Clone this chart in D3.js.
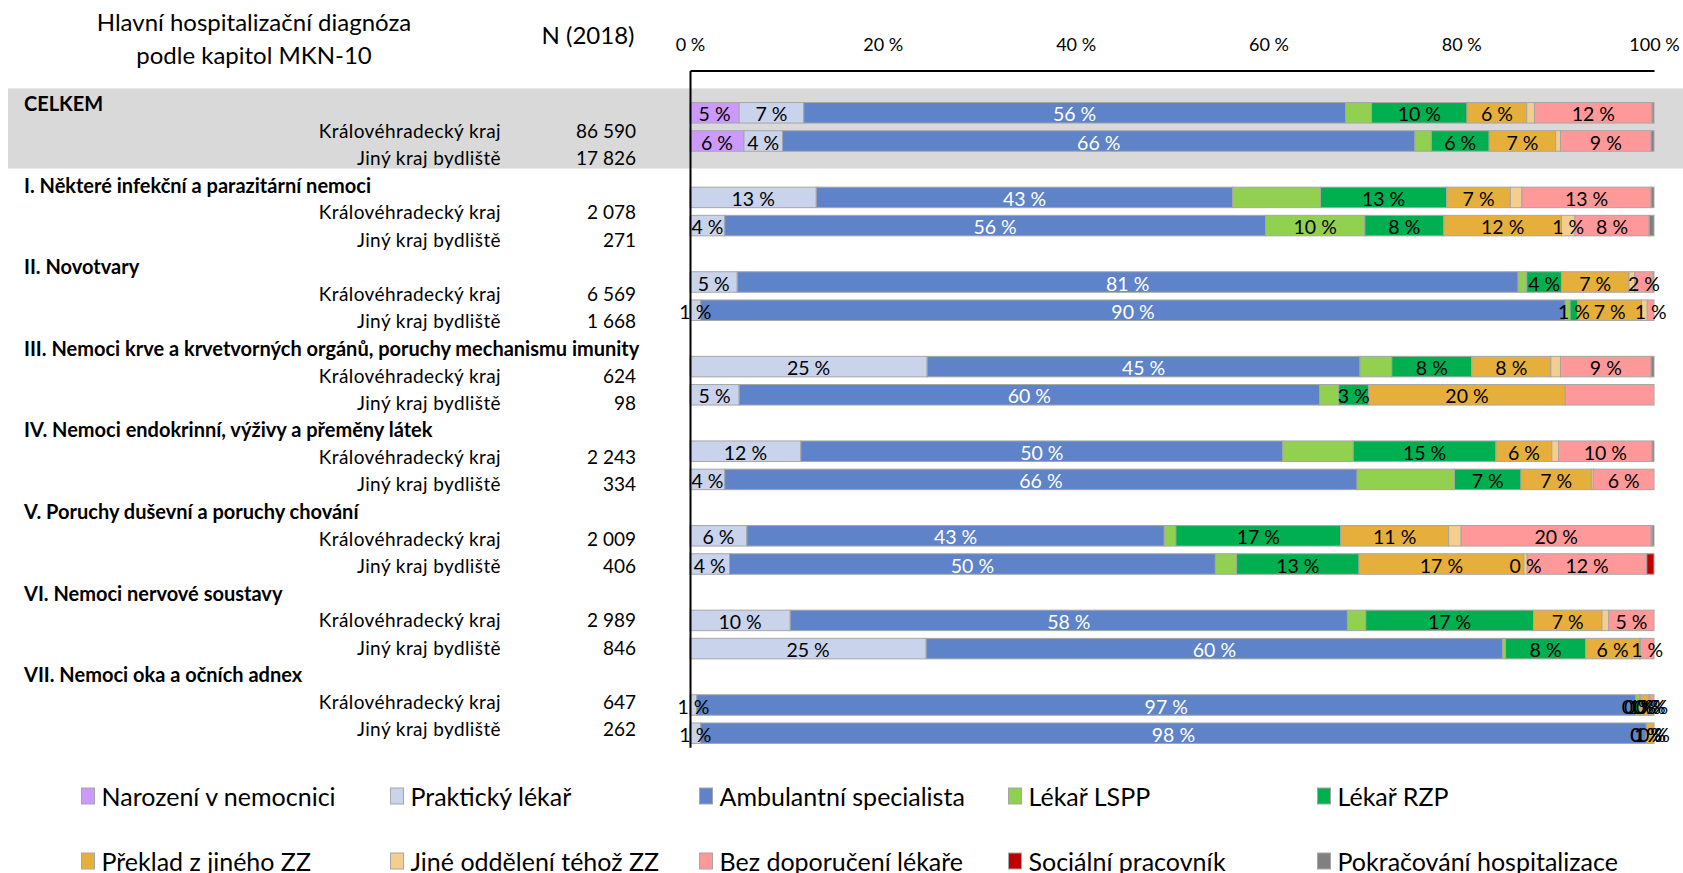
<!DOCTYPE html>
<html lang="cs">
<head>
  <meta charset="UTF-8">
  <title>Hlavní hospitalizační diagnóza</title>
  <style>
    body { margin: 0; background: #fff; }
    svg text { font-family: Lato, 'Open Sans', sans-serif; fill: #000; }
  </style>
</head>
<body>
  <svg id="svg" width="1683" height="873"></svg>

  <script src="https://d3js.org/d3.v7.min.js"></script>
  <script>
    // categories (stack order)
    const categories = ['Narození v nemocnici', 'Praktický lékař', 'Ambulantní specialista', 'Lékař LSPP', 'Lékař RZP',
      'Překlad z jiného ZZ', 'Jiné oddělení téhož ZZ', 'Bez doporučení lékaře', 'Sociální pracovník', 'Pokračování hospitalizace']
    const colors = ['#CC99FF', '#C9D3EC', '#5F83C8', '#92D050', '#00B050', '#E6AF3C', '#F3CE8C', '#FF9999', '#C00000', '#808080']

    const chapters = ['CELKEM', 'I. Některé infekční a parazitární nemoci', 'II. Novotvary',
      'III. Nemoci krve a krvetvorných orgánů, poruchy mechanismu imunity', 'IV. Nemoci endokrinní, výživy a přeměny látek',
      'V. Poruchy duševní a poruchy chování', 'VI. Nemoci nervové soustavy', 'VII. Nemoci oka a očních adnex']
    const regions = ['Královéhradecký kraj', 'Jiný kraj bydliště']
    const counts = [[86590, 17826], [2078, 271], [6569, 1668], [624, 98], [2243, 334], [2009, 406], [2989, 846], [647, 262]]

    // shares in % per row (chapter x region), same order as categories
    const shares = [
      [5.1, 6.7, 56.2, 2.7, 9.9, 6.2, 0.8, 12.2, 0, 0.2],
      [5.6, 4.0, 65.6, 1.7, 6.0, 6.9, 0.5, 9.4, 0, 0.3],
      [0, 13.1, 43.2, 9.1, 13.1, 6.6, 1.2, 13.4, 0, 0.3],
      [0, 3.6, 56.1, 10.3, 8.2, 12.2, 1.4, 7.7, 0, 0.5],
      [0, 4.9, 81.0, 0.9, 3.6, 7.0, 0.6, 1.9, 0, 0.1],
      [0, 1.1, 89.7, 0.5, 0.8, 6.6, 0.6, 0.7, 0, 0],
      [0, 24.6, 44.9, 3.3, 8.3, 8.2, 1.0, 9.4, 0, 0.3],
      [0, 5.1, 60.2, 2.0, 3.1, 20.4, 0, 9.2, 0, 0],
      [0, 11.5, 50.0, 7.3, 14.8, 5.8, 0.7, 9.7, 0, 0.2],
      [0, 3.6, 65.6, 10.1, 6.9, 7.3, 0.2, 6.3, 0, 0],
      [0, 5.9, 43.3, 1.2, 17.1, 11.2, 1.3, 19.7, 0.1, 0.2],
      [0, 4.1, 50.4, 2.2, 12.7, 17.1, 0.35, 12.4, 0.75, 0],
      [0, 10.4, 57.8, 1.9, 17.4, 7.1, 0.7, 4.7, 0, 0],
      [0, 24.5, 59.8, 0.3, 8.3, 5.6, 0.1, 1.4, 0, 0],
      [0, 0.7, 97.4, 0.4, 0.1, 0.9, 0.1, 0.4, 0, 0],
      [0, 1.1, 98.1, 0, 0, 0.8, 0, 0, 0, 0]
    ]
    // which segments carry a data label (category index)
    const labelled = [
      [0, 1, 2, 4, 5, 7], [0, 1, 2, 4, 5, 7],
      [1, 2, 4, 5, 7], [1, 2, 3, 4, 5, 6, 7],
      [1, 2, 4, 5, 7], [1, 2, 4, 5, 7],
      [1, 2, 4, 5, 7], [1, 2, 4, 5],
      [1, 2, 4, 5, 7], [1, 2, 4, 5, 7],
      [1, 2, 4, 5, 7], [1, 2, 4, 5, 6, 7],
      [1, 2, 4, 5, 7], [1, 2, 4, 5, 7],
      [1, 2, 3, 4, 5, 6, 7], [1, 2, 3, 4, 5, 7]
    ]
    const ticks = [0, 20, 40, 60, 80, 100]

    const svg = d3.select('#svg')
    const nSlots = chapters.length * 3

    // bar rows (each chapter = header slot + 2 bars)
    const yBar = d3.scaleBand()
      .domain(d3.range(nSlots))
      .range([70.5, 70.5 + nSlots * 28.2])
      .paddingInner(0.273)
      .paddingOuter(0.1365)

    // text rows on the left (slightly different pitch, as in the source sheet)
    const yText = d3.scaleBand()
      .domain(d3.range(nSlots))
      .range([89.4, 89.4 + nSlots * 27.2])

    const xScale = d3.scaleLinear()
      .domain([0, 100])
      .range([690, 1654])

    const color = d3.scaleOrdinal()
      .domain(categories)
      .range(colors)

    const fmt = d3.formatLocale({ decimal: ',', thousands: '\u00a0', grouping: [3], currency: ['', ' Kč'] }).format(',d')

    // grey band behind CELKEM
    svg.append('rect')
      .attr('x', 8)
      .attr('y', yText(0) - 1)
      .attr('width', 1683 - 8)
      .attr('height', yText(3) - yText(0) - 1.5)
      .attr('fill', '#D9D9D9')

    // headings
    svg.append('text')
      .attr('x', 254).attr('y', 21)
      .attr('text-anchor', 'middle').attr('dominant-baseline', 'central')
      .style('font-size', '24px')
      .text('Hlavní hospitalizační diagnóza')
    svg.append('text')
      .attr('x', 254).attr('y', 54)
      .attr('text-anchor', 'middle').attr('dominant-baseline', 'central')
      .style('font-size', '24px')
      .text('podle kapitol MKN-10')
    svg.append('text')
      .attr('x', 588).attr('y', 34)
      .attr('text-anchor', 'middle').attr('dominant-baseline', 'central')
      .style('font-size', '24px')
      .text('N (2018)')

    // rows as flat table
    const rows = []
    chapters.forEach((c, ci) => {
      regions.forEach((r, ri) => {
        const obj = { chapter: c, region: r, n: counts[ci][ri], slot: ci * 3 + 1 + ri, idx: rows.length }
        categories.forEach((k, ki) => { obj[k] = shares[rows.length][ki] })
        rows.push(obj)
      })
    })

    // left labels
    svg.append('g')
      .selectAll('text')
      .data(chapters)
      .join('text')
      .attr('x', 24)
      .attr('y', (d, i) => yText(i * 3) + yText.bandwidth() / 2)
      .attr('dominant-baseline', 'central')
      .style('font-size', '20px')
      .style('font-weight', 'bold')
      .text(d => d)

    svg.append('g')
      .selectAll('text')
      .data(rows)
      .join('text')
      .attr('x', 501)
      .attr('y', d => yText(d.slot) + yText.bandwidth() / 2)
      .attr('text-anchor', 'end')
      .attr('dominant-baseline', 'central')
      .style('font-size', '19px')
      .style('letter-spacing', '0.4px')
      .text(d => d.region)

    svg.append('g')
      .selectAll('text')
      .data(rows)
      .join('text')
      .attr('x', 636)
      .attr('y', d => yText(d.slot) + yText.bandwidth() / 2)
      .attr('text-anchor', 'end')
      .attr('dominant-baseline', 'central')
      .style('font-size', '19px')
      .text(d => fmt(d.n))

    // stacked bars
    const series = d3.stack().keys(categories)(rows)

    const layers = svg.append('g')
      .selectAll('g')
      .data(series)
      .join('g')
      .attr('fill', d => color(d.key))

    layers.selectAll('rect')
      .data(d => d.filter(s => s[1] - s[0] > 0))
      .join('rect')
      .attr('x', d => xScale(d[0]))
      .attr('y', d => yBar(d.data.slot))
      .attr('width', d => xScale(d[1]) - xScale(d[0]))
      .attr('height', yBar.bandwidth())
      .attr('stroke', '#A6A6A6')
      .attr('stroke-width', 1)

    // data labels
    const labels = []
    series.forEach((s, ki) => {
      s.forEach(seg => {
        if (labelled[seg.data.idx].includes(ki)) labels.push({ k: ki, seg })
      })
    })
    svg.append('g')
      .selectAll('text')
      .data(labels)
      .join('text')
      .attr('x', d => (xScale(d.seg[0]) + xScale(d.seg[1])) / 2)
      .attr('y', d => yBar(d.seg.data.slot) + yBar.bandwidth() / 2 + 1)
      .attr('text-anchor', 'middle')
      .attr('dominant-baseline', 'central')
      .style('font-size', '19.5px')
      .style('fill', d => d.k === 2 ? '#fff' : '#000')
      .text(d => Math.round(d.seg[1] - d.seg[0]) + ' %')

    // axes
    const xAxis = svg.append('g')
      .attr('transform', `translate(0,${yBar.range()[0]})`)
      .call(d3.axisTop(xScale).tickValues(ticks).tickSize(0).tickSizeOuter(0).tickPadding(20).tickFormat(d => d + ' %'))
    xAxis.select('.domain').attr('stroke', '#000').attr('stroke-width', 2)
    xAxis.selectAll('text').style('font-size', '18px').style('font-family', 'Lato, sans-serif')

    const yAxis = svg.append('g')
      .attr('transform', `translate(${xScale(0)},0)`)
      .call(d3.axisLeft(yBar).tickSize(0).tickSizeOuter(0).tickFormat(''))
    yAxis.select('.domain').attr('stroke', '#000').attr('stroke-width', 2)

    // legend
    const legend = svg.append('g')
      .selectAll('g')
      .data(categories)
      .join('g')
      .attr('transform', (d, i) => `translate(${81.5 + (i % 5) * 309},${i < 5 ? 796 : 861})`)

    legend.append('rect')
      .attr('x', 0).attr('y', -8)
      .attr('width', 13).attr('height', 16)
      .attr('fill', d => color(d))
      .attr('stroke', '#A6A6A6')

    legend.append('text')
      .attr('x', 20).attr('y', 0)
      .attr('dominant-baseline', 'central')
      .style('font-size', '25px')
      .text(d => d)
  </script>
</body>
</html>
